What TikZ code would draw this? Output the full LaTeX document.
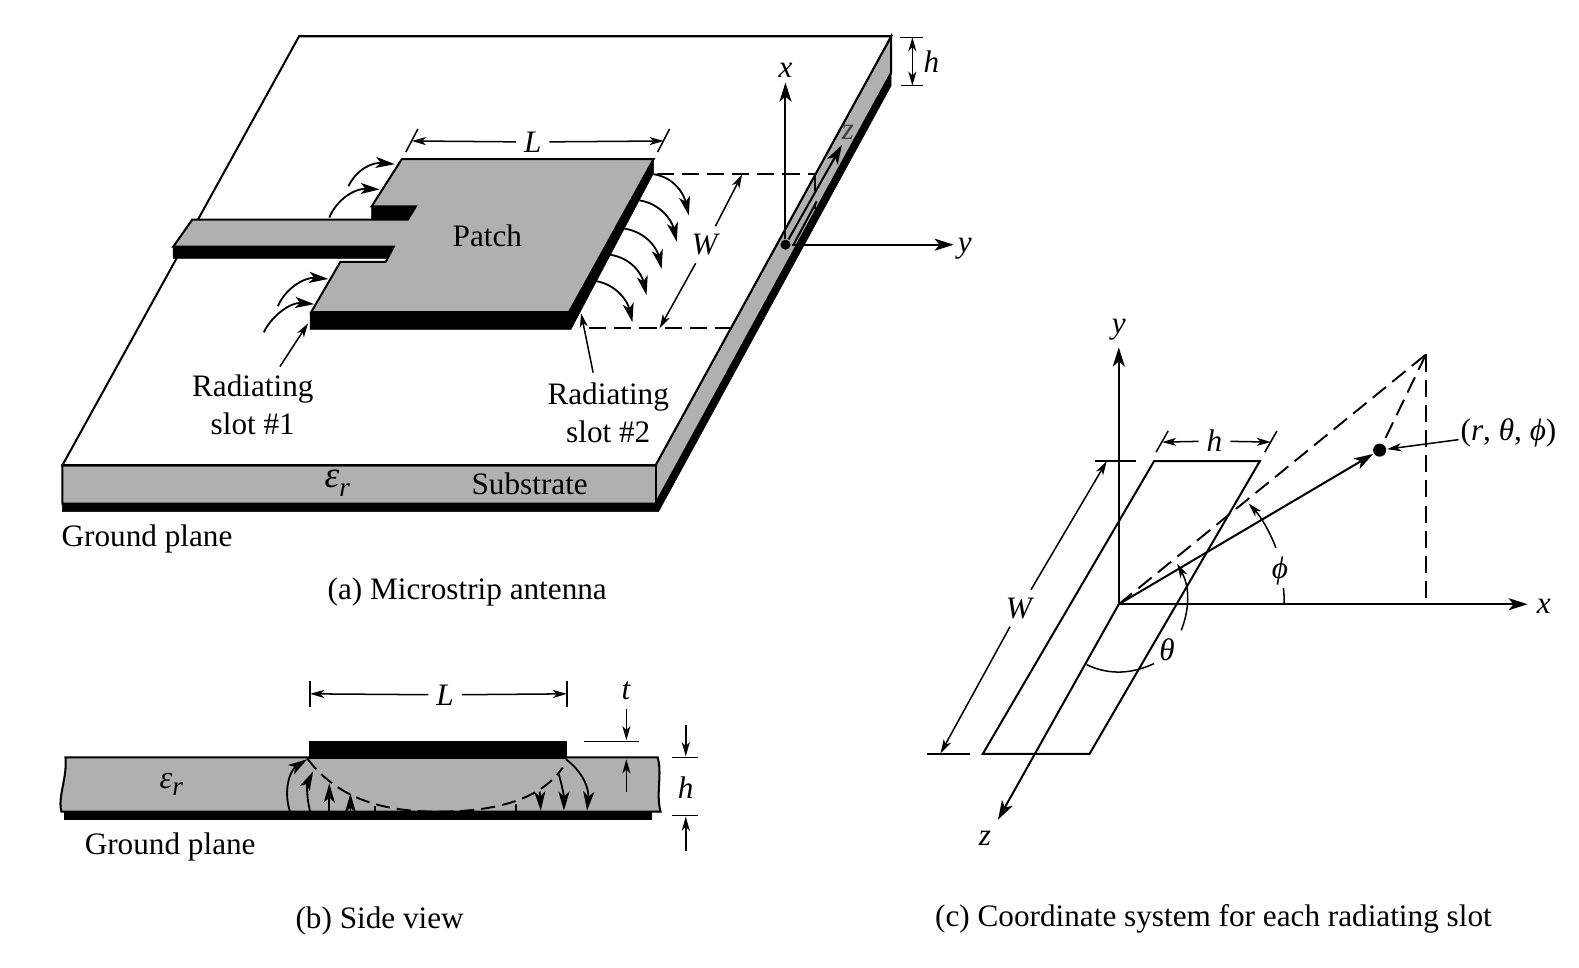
\documentclass[tikz,border=0pt]{standalone}
\usepackage{fontspec}
\setmainfont{Liberation Serif}
\usetikzlibrary{arrows.meta,calc}
\newcommand{\epsr}[2]{\textit{{\fontsize{#1}{#1}\selectfont ε}\raisebox{#2}{\fontsize{27}{27}\selectfont r}}}

\begin{document}
\begin{tikzpicture}[x=1pt,y=-1pt,->,>={Stealth[length=19pt,width=12pt,inset=5pt]},semithick,line width=2pt]
  \tikzstyle{every node}=[font=\fontsize{31}{36}\selectfont,inner sep=1pt,align=center]
  \tikzstyle{gaplabel}=[inner sep=7pt]
  \tikzstyle{slab}=[fill=black!31,draw=black,-]
  \tikzstyle{metal}=[fill=black,draw=black,line width=.5pt,-]
  \tikzstyle{thinline}=[line width=1.5pt,-]
  \tikzstyle{dim}=[line width=1.5pt,>={Stealth[length=14pt,width=8pt,inset=4pt]}]
  \tikzstyle{fringe}=[line width=1.8pt,>={Stealth[length=19pt,width=11pt,inset=5pt]}]
  \tikzstyle{gapdash}=[-,dashed,dash pattern=on 17pt off 8pt,line width=1.9pt]
  \useasboundingbox (0,0) rectangle (1568,961);

  % (a) board
  \fill[white] (0,0) rectangle (1568,961);
  \draw[metal] (62,500) -- (651,500) -- (885,72) -- (885,85) -- (654,508) -- (62,508) -- cycle;
  \draw[slab] (62,462) -- (651,462) -- (885,36) -- (885,72) -- (651,500) -- (62,500) -- cycle;
  \draw[-,fill=white] (62,462) -- (297,36) -- (885,36) -- (651,462) -- cycle;
  \draw[-] (651,462) -- (651,500);

  % (a) patch
  \draw[metal] (308,310) -- (565,310) -- (649,158) -- (649,172) -- (567,327) -- (308,327) -- cycle;
  \draw[metal] (369,205) -- (413,205) -- (405,218) -- (369,218) -- cycle;
  \draw[metal] (172,245) -- (391,245) -- (384,256.5) -- (172,256.5) -- cycle;
  \draw[slab] (399,158) -- (649,158) -- (565,310) -- (309,310) -- (338,260) -- (383,260) -- (391,245)
     -- (172,245) -- (191,218) -- (405,218) -- (413,205) -- (369,205) -- cycle;

  % (a) fringing fields
  \draw[fringe] (346,185) .. controls (354,168) and (370,161) .. (392,163);
  \draw[fringe] (327,216) .. controls (335,197) and (353,187) .. (377,188);
  \draw[fringe] (276,304) .. controls (283,287) and (302,275) .. (326,277);
  \draw[fringe] (262,330) .. controls (270,313) and (289,300) .. (312,302);
  \foreach \sx/\sy/\ex/\ey in {649/173/684/214,635/199/672/240,620/227/657/267,606/253/642/293,591/279/628/320}
    \draw[fringe] (\sx,\sy) .. controls (\sx+20,\sy+3) and (\ex-5,\ey-22) .. (\ex,\ey);

  % (a) L, W and h
  \node[gaplabel] (PatchL) at (529,141) {\textit{L}};
  \coordinate (La) at (409,140);
  \coordinate (Lb) at (659,140);
  \draw[thinline] (415,128) -- (403,151);
  \draw[thinline] (665,128) -- (653,151);
  \draw[dim] (PatchL) -- (La);
  \draw[dim] (PatchL) -- (Lb);
  \node[gaplabel] (PatchW) at (701,243) {\textit{W}};
  \coordinate (Wa) at (737,173);
  \coordinate (Wb) at (655,326);
  \draw[dim] (PatchW) -- (Wa);
  \draw[dim] (PatchW) -- (Wb);
  \draw[gapdash] (652,172.5) -- (809,172.5);
  \draw[gapdash] (585,326) -- (727,326);
  \coordinate (ha) at (906,37);
  \coordinate (hb) at (906,85);
  \draw[thinline] (894,37) -- (917,37);
  \draw[thinline] (895,85) -- (917,85);
  \draw[dim,<->] (ha) -- (hb);
  \node (BoardH) at (925,61) {\textit{h}};

  % (a) slot axes
  \node[circle,fill=black,inner sep=0pt,minimum size=10pt] (O) at (780,243) {};
  \node (AxisX) at (780,70) {\textit{x}};
  \node (AxisY) at (958,247) {\textit{y}};
  \node[text=black!75] (AxisZ) at (842,131) {\textit{z}};
  \draw (O) -- (780,82);
  \draw (O) -- (947,243);
  \draw (O) -- (836,144);
  \draw[-] (788,243) -- (811,200);
  \draw[-] (809,172) -- (809,190);
  \draw[-] (809,202) -- (809,208);

  % (a) labels
  \node (Slot1) at (251,402) {Radiating\\[1pt]slot \#1};
  \node (Slot2) at (604,410) {Radiating\\[1pt]slot \#2};
  \coordinate (Slot1tip) at (306,321);
  \coordinate (Slot2tip) at (577,311);
  \draw[dim] (278,364) -- (Slot1tip);
  \draw[dim] (589,370) -- (Slot2tip);
  \node (Patch) at (484,234) {Patch};
  \node (Er) at (335,480) {\epsr{37}{-9pt}};
  \node (Sub) at (526,480) {Substrate};
  \node (Gnd) at (146,535) {Ground plane};
  \node (CapA) at (464,588) {(a) Microstrip antenna};

  % (b) side view
  \draw[metal] (63.5,806) rectangle (647,814);
  \draw[slab] (65,752) -- (653,752) .. controls (658,768) and (651,788) .. (656,806)
     -- (61,806) .. controls (57,792) and (67,772) .. (65,752) -- cycle;
  \draw[metal] (307,736) rectangle (562,753);
  \draw[fringe] (288,806) .. controls (281,785) and (288,765) .. (305,754);
  \draw[fringe] (308,806) .. controls (304,790) and (305,778) .. (311,766);
  \draw[fringe] (327,806) -- (327,778);
  \draw[fringe] (348,806) -- (348,788);
  \draw[fringe,-] (372,806) -- (372,800);
  \draw[fringe,-] (512,806) -- (512,798);
  \draw[fringe] (536,786) -- (537,805);
  \draw[fringe] (555,769) .. controls (558,780) and (560,790) .. (560,805);
  \draw[fringe] (562,754) .. controls (578,766) and (585,782) .. (583,805);
  \draw[gapdash,dash pattern=on 14pt off 7pt] (305,753) .. controls (340,800) and (395,806) .. (435,806)
     .. controls (485,806) and (535,797) .. (559,762);
  \node[gaplabel] (SideL) at (442,690) {\textit{L}};
  \coordinate (SLa) at (308,689);
  \coordinate (SLb) at (563,689);
  \draw[thinline] (308,676) -- (308,702);
  \draw[thinline] (563,676) -- (563,702);
  \draw[dim] (SideL) -- (SLa);
  \draw[dim] (SideL) -- (SLb);
  \node (SideT) at (622,686) {\textit{t}};
  \draw[thinline] (580,736.5) -- (635,736.5);
  \draw[dim] (622,704) -- (622,735);
  \draw[dim] (622,786) -- (622,754);
  \draw[thinline] (667,752) -- (693,752);
  \draw[thinline] (667,810) -- (693,810);
  \draw[dim] (681,720) -- (681,751);
  \draw[dim] (681,845) -- (681,811);
  \node (SideH) at (681,782) {\textit{h}};
  \node (SideEr) at (170,779) {\epsr{32}{-7pt}};
  \node (SideGnd) at (169,841) {Ground plane};
  \node (CapB) at (377,915) {(b) Side view};

  % (c) coordinate system
  \coordinate (C) at (1111,600);
  \coordinate (Apex) at (1416,352);
  \node[circle,fill=black,inner sep=0pt,minimum size=13pt] (Pt) at (1370,447) {};
  \draw[-] (1146,458) -- (1251,458) -- (1082,748.5) -- (976,748.5) -- cycle;
  \draw (C) -- (1111,345);
  \draw (C) -- (1517,600);
  \draw (C) -- (991,814);
  \draw (C) -- (Pt);
  \draw[gapdash] (C) -- (Apex);
  \draw[gapdash] (Apex) -- (Pt);
  \draw[gapdash] (Apex) -- (1416,600);
  \node (CY) at (1111,327) {\textit{y}};
  \node (CX) at (1533,602) {\textit{x}};
  \node (CZ) at (978,832) {\textit{z}};
  \node (Coord) at (1498,430) {(\textit{r}, \textit{θ}, \textit{ϕ})};
  \draw[dim] (Coord) -- (Pt);
  % (c) W and h
  \node[gaplabel] (SlotW) at (1013,604) {\textit{W}};
  \coordinate (SWa) at (1099,458);
  \coordinate (SWb) at (934,748);
  \draw[thinline] (1087,458) -- (1128,458);
  \draw[thinline] (921,748.5) -- (963,748.5);
  \draw[dim] (SlotW) -- (SWa);
  \draw[dim] (SlotW) -- (SWb);
  \node[gaplabel] (SlotH) at (1206,438) {\textit{h}};
  \coordinate (SHa) at (1154,439);
  \coordinate (SHb) at (1262,439);
  \draw[thinline] (1160,428) -- (1148,449);
  \draw[thinline] (1268,428) -- (1256,449);
  \draw[dim] (SlotH) -- (SHa);
  \draw[dim] (SlotH) -- (SHb);
  % (c) angles
  \node (Phi) at (1271,567) {\textit{ϕ}};
  \node (Theta) at (1159,645) {\textit{θ}};
  \draw[thinline] (1275,600) .. controls (1275.5,595) and (1275,590) .. (1274.5,584);
  \draw[dim] (1267,544) .. controls (1261,528) and (1252,513) .. (1240,500);
  \draw[thinline] (1079,660) .. controls (1098,669) and (1120,671) .. (1146,659);
  \draw[dim] (1173,626) .. controls (1183,600) and (1180,580) .. (1169,560);
  \node (CapC) at (1205,912) {(c) Coordinate system for each radiating slot};
\end{tikzpicture}
\end{document}
